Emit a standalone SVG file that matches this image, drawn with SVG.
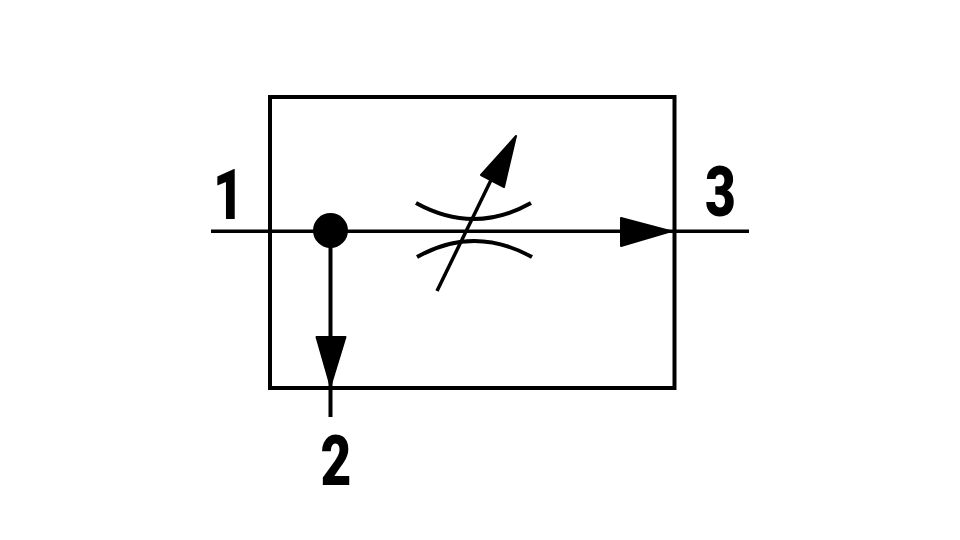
<svg xmlns="http://www.w3.org/2000/svg" width="960" height="540" viewBox="0 0 960 540">
<style>
.l{fill:none;stroke:#000;stroke-width:4}
.t{fill:none;stroke:#000;stroke-width:3.5}
.h{fill:#000;stroke:#000;stroke-width:2;stroke-linejoin:round}
.d{font-family:Roboto,"Liberation Sans",Arial,sans-serif;font-weight:900;font-size:71px;fill:#000;text-anchor:middle}
</style>
<rect width="960" height="540" fill="#fff"/>
<g id="body"><rect class="l" x="270" y="97" width="404.500" height="291"/></g>
<g id="connectors">
<path class="t" d="M211 231.300H749"/>
<path class="l" d="M330.500 231V417"/>
<path class="h" d="M621 218L671 231.300L621 246Z"/>
<path class="h" d="M316.500 337H345.500L330.500 386Z"/>
</g>
<g id="junction"><circle cx="330.500" cy="230.500" r="17.500" fill="#000"/></g>
<g id="throttle">
<path class="l" d="M416 203Q474 235 531 203"/>
<path class="l" d="M417 257Q474 225 532 257"/>
<path class="t" d="M437 291L492 178"/>
<path class="h" d="M516 136L481 175L504 187Z"/>
</g>
<g id="label-1"><text class="d" transform="translate(228.500 219) scale(.75 1)">1</text></g>
<g id="label-2"><text class="d" transform="translate(336 485) scale(.75 1)">2</text></g>
<g id="label-3"><text class="d" transform="translate(720.500 216) scale(.75 1)">3</text></g>
</svg>
